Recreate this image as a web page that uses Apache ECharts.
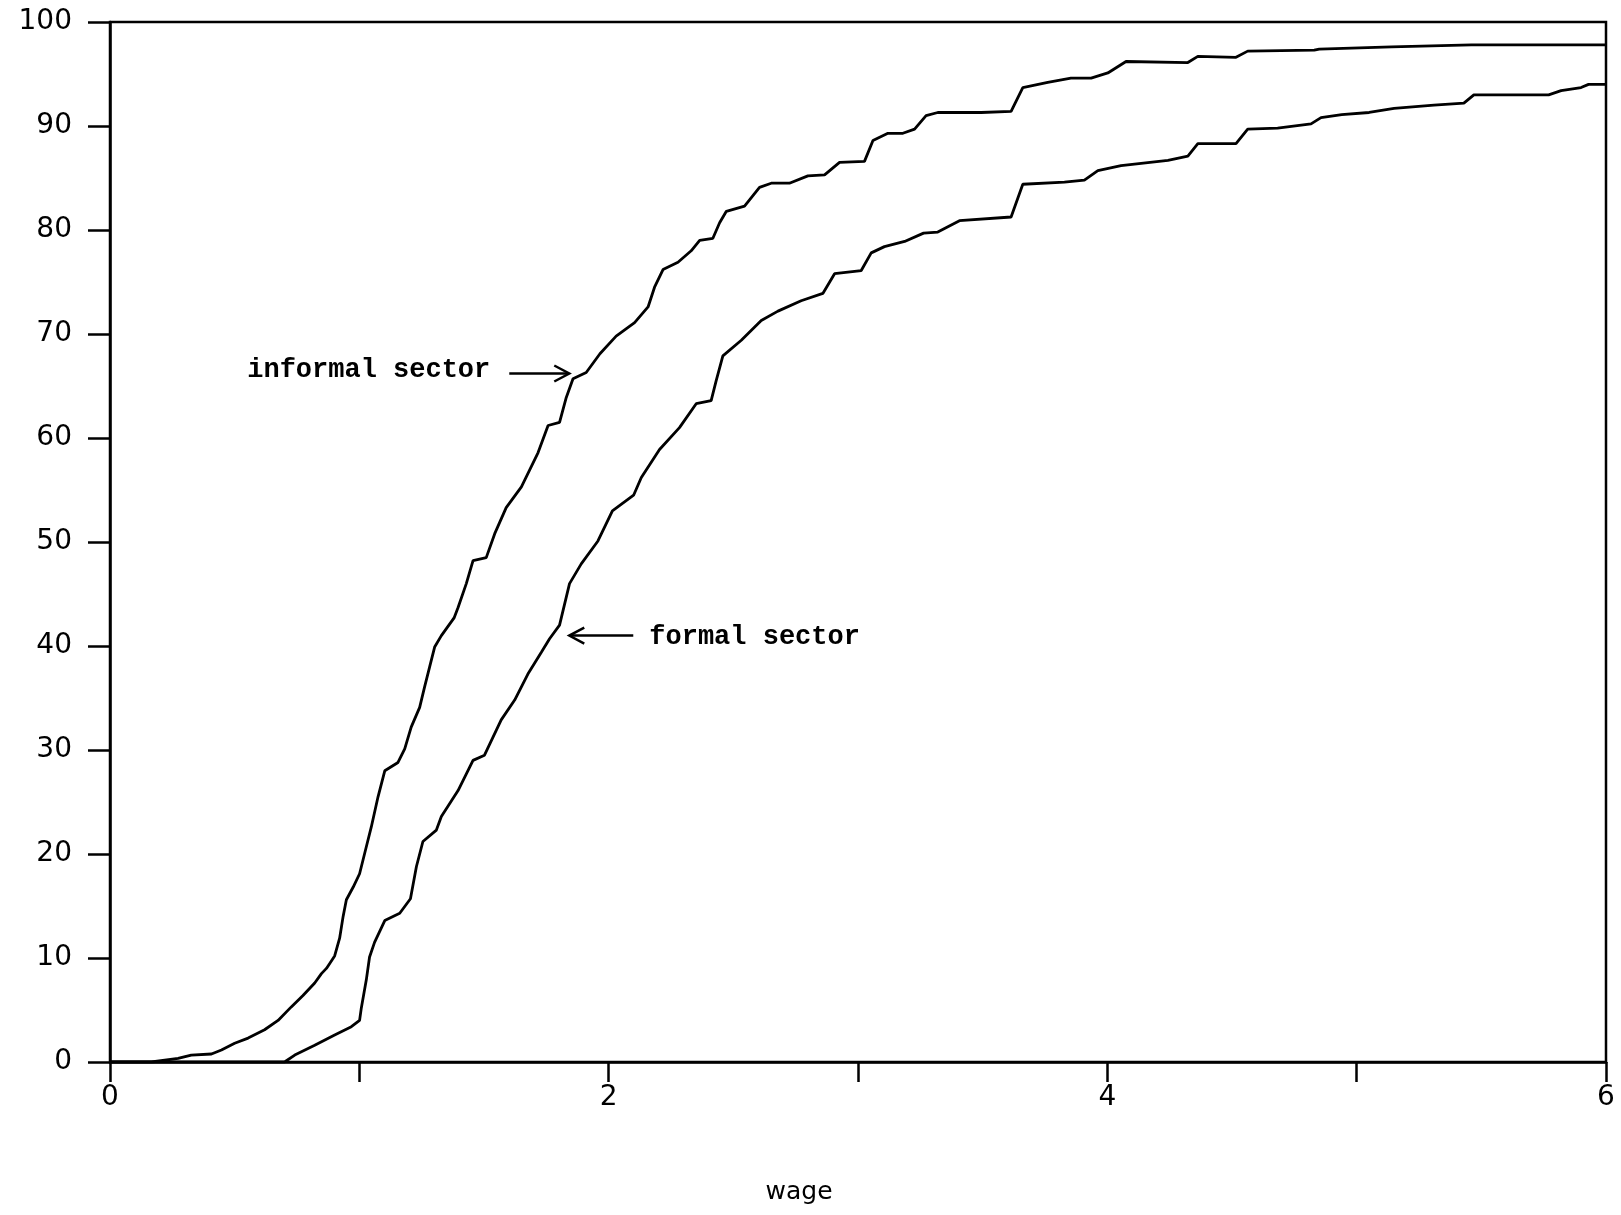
<!DOCTYPE html>
<html>
<head>
<meta charset="utf-8">
<script src="https://cdn.jsdelivr.net/npm/echarts@6/dist/echarts.min.js"></script>
<style>
html,body{margin:0;padding:0;background:#fff;}
#c{width:1621px;height:1215px;}
</style>
</head>
<body>
<div id="c"></div>
<script>
// wage (x) and cumulative percent (y)
const informal = [[0,0],[0.166,0],[0.273,0.35],[0.326,0.67],[0.407,0.77],[0.447,1.15],[0.5,1.8],[0.554,2.3],[0.62,3.1],[0.674,4.0],[0.727,5.3],[0.774,6.4],[0.821,7.6],[0.848,8.5],[0.868,9.0],[0.901,10.2],[0.921,11.9],[0.935,14.0],[0.948,15.6],[0.975,16.8],[1.001,18.1],[1.028,20.7],[1.048,22.6],[1.075,25.5],[1.102,28.0],[1.155,28.8],[1.182,30.1],[1.208,32.2],[1.242,34.1],[1.262,36.1],[1.282,38.0],[1.302,39.9],[1.329,41.0],[1.38,42.7],[1.396,43.7],[1.429,46.0],[1.456,48.2],[1.509,48.5],[1.543,50.8],[1.589,53.3],[1.65,55.3],[1.717,58.6],[1.757,61.2],[1.803,61.5],[1.83,63.9],[1.857,65.7],[1.91,66.3],[1.965,68.1],[2.03,69.8],[2.104,71.1],[2.158,72.6],[2.184,74.5],[2.218,76.2],[2.278,76.9],[2.331,78.0],[2.365,79.0],[2.418,79.2],[2.445,80.7],[2.472,81.8],[2.545,82.3],[2.605,84.1],[2.652,84.5],[2.725,84.5],[2.799,85.2],[2.866,85.3],[2.926,86.5],[3.026,86.6],[3.06,88.6],[3.12,89.3],[3.18,89.3],[3.227,89.7],[3.273,91.0],[3.32,91.3],[3.494,91.3],[3.614,91.4],[3.661,93.7],[3.761,94.2],[3.854,94.6],[3.935,94.6],[4.002,95.1],[4.075,96.2],[4.323,96.1],[4.363,96.7],[4.516,96.6],[4.563,97.2],[4.83,97.3],[4.85,97.4],[5.14,97.6],[5.46,97.8],[6,97.8]];
const formal = [[0,0],[0.70,0],[0.741,0.67],[0.821,1.6],[0.901,2.6],[0.968,3.4],[1.001,4.0],[1.008,5.2],[1.028,7.9],[1.041,10.1],[1.061,11.5],[1.102,13.6],[1.162,14.3],[1.205,15.7],[1.229,18.8],[1.255,21.2],[1.309,22.3],[1.329,23.6],[1.396,26.1],[1.456,29.0],[1.502,29.5],[1.569,32.9],[1.623,34.8],[1.676,37.3],[1.73,39.4],[1.763,40.7],[1.803,42.0],[1.843,46.0],[1.89,47.9],[1.957,50.1],[2.015,53.0],[2.1,54.5],[2.131,56.2],[2.204,58.9],[2.284,61.0],[2.351,63.3],[2.411,63.6],[2.431,65.5],[2.458,67.9],[2.532,69.4],[2.612,71.3],[2.679,72.2],[2.772,73.2],[2.859,73.9],[2.906,75.8],[3.013,76.1],[3.053,77.8],[3.106,78.4],[3.187,78.9],[3.263,79.7],[3.32,79.8],[3.407,80.9],[3.614,81.25],[3.661,84.4],[3.828,84.6],[3.908,84.8],[3.962,85.7],[4.055,86.2],[4.243,86.7],[4.323,87.1],[4.363,88.3],[4.516,88.3],[4.563,89.7],[4.683,89.8],[4.817,90.2],[4.857,90.8],[4.94,91.1],[5.05,91.3],[5.15,91.7],[5.31,92.0],[5.43,92.2],[5.47,93.0],[5.77,93.0],[5.82,93.4],[5.90,93.7],[5.93,94.0],[6,94.0]];
const xTickLabels = ['0','','2','','4','','6'];
const xName = 'wage';
const annotations = [
  {text:'informal sector', at:[1.842, 66.2], side:'left'},
  {text:'formal sector', at:[1.842, 41.0], side:'right'}
];

const chart = echarts.init(document.getElementById('c'));
const monoFont = '"Liberation Mono", "DejaVu Sans Mono", monospace';
const sansFont = '"DejaVu Sans", "Liberation Sans", sans-serif';
const option = {
  animation:false,
  backgroundColor:'#fff',
  grid:{left:110,right:15,top:22,bottom:153,show:true,borderColor:'#000',borderWidth:2.5,backgroundColor:'transparent'},
  xAxis:{
    type:'value',min:0,max:6,interval:1,
    axisLine:{show:true,lineStyle:{color:'#000',width:2.5}},
    axisTick:{show:true,length:20,lineStyle:{color:'#000',width:2.5}},
    axisLabel:{margin:22,fontFamily:sansFont,fontSize:28,color:'#000',
      formatter:function(v){return xTickLabels[Math.round(v)];}},
    splitLine:{show:false}
  },
  yAxis:{
    type:'value',min:0,max:100,interval:10,
    axisLine:{show:true,lineStyle:{color:'#000',width:2.5}},
    axisTick:{show:true,length:22,lineStyle:{color:'#000',width:2.5}},
    axisLabel:{margin:38,fontFamily:sansFont,fontSize:28,color:'#000'},
    splitLine:{show:false}
  },
  series:[
    {name:'informal sector',type:'line',data:informal,showSymbol:false,symbol:'none',
      lineStyle:{color:'#000',width:2.8},silent:true},
    {name:'formal sector',type:'line',data:formal,showSymbol:false,symbol:'none',
      lineStyle:{color:'#000',width:2.8},silent:true}
  ]
};
chart.setOption(option);

const graphics = [];
annotations.forEach(function(a){
  const p = chart.convertToPixel({gridIndex:0}, a.at);
  const tx = p[0], ty = p[1];
  const lineStyle = {stroke:'#000',lineWidth:2.5,fill:null};
  if(a.side === 'left'){
    graphics.push({type:'line',shape:{x1:tx-60,y1:ty,x2:tx-1,y2:ty},style:lineStyle});
    graphics.push({type:'polyline',shape:{points:[[tx-15,ty-8],[tx,ty],[tx-15,ty+8]]},style:lineStyle});
    graphics.push({type:'text',x:tx-79,y:ty-3,style:{text:a.text,fontFamily:monoFont,fontSize:27,fontWeight:'bold',fill:'#000',align:'right',verticalAlign:'middle'}});
  } else {
    graphics.push({type:'line',shape:{x1:tx+1,y1:ty,x2:tx+64,y2:ty},style:lineStyle});
    graphics.push({type:'polyline',shape:{points:[[tx+15,ty-8],[tx,ty],[tx+15,ty+8]]},style:lineStyle});
    graphics.push({type:'text',x:tx+80,y:ty+2,style:{text:a.text,fontFamily:monoFont,fontSize:27,fontWeight:'bold',fill:'#000',align:'left',verticalAlign:'middle'}});
  }
});
graphics.push({type:'text',x:799,y:1192,style:{text:xName,fontFamily:sansFont,fontSize:25,fill:'#000',align:'center',verticalAlign:'middle'}});
chart.setOption({graphic:graphics});
</script>
</body>
</html>
